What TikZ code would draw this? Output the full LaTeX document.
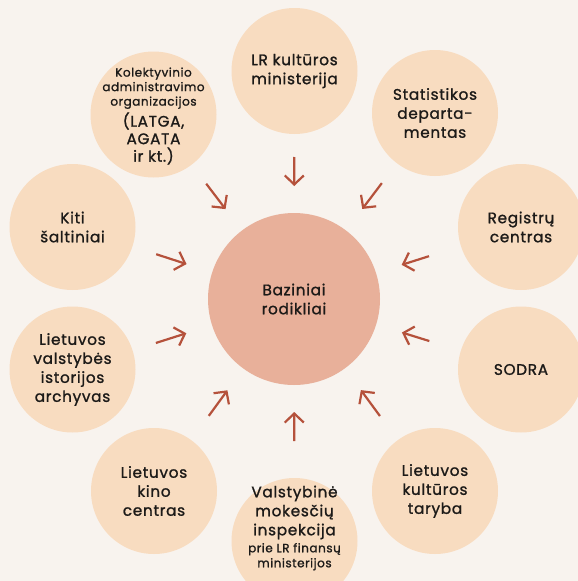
\documentclass[tikz,border=0pt]{standalone}
\usepackage{fontspec}
\setmainfont{Poppins}[LetterSpace=4.5, FakeBold=1.2]
\usetikzlibrary{arrows.meta}
\definecolor{bgcol}{HTML}{F8F3EE}
\definecolor{srccol}{HTML}{F8DCC0}
\definecolor{hubcol}{HTML}{E8B09A}
\definecolor{arrcol}{HTML}{B5513B}
\definecolor{txtcol}{HTML}{1C1A18}
\newcommand{\bigtxt}{\fontsize{15.3}{19}\selectfont}
\newcommand{\smalltxt}{\fontsize{12}{14.5}\selectfont}
\tikzset{
	src/.style={circle, fill=srccol, minimum size=126pt, inner sep=0pt, outer sep=0pt, align=center, text=txtcol, font=\bigtxt},
	hub/.style={circle, fill=hubcol, minimum size=172pt, inner sep=0pt, outer sep=0pt, align=center, text=txtcol, font=\bigtxt},
	lbl/.style={align=center, text=txtcol, inner sep=0pt, font=\bigtxt},
	arr/.style={draw=arrcol, line width=2.2pt, -{Straight Barb[length=9pt,width=19pt]}, shorten >=27pt}
}

\begin{document}
\begin{tikzpicture}[x=1pt, y=-1pt]
		%%%%% START %%%%%
		
		\useasboundingbox (0, 0) rectangle (578, 581);
		\fill[bgcol] (0, 0) rectangle (578, 581);
		
		\node[hub] (rod) at (294, 299) {Baziniai\\rodikliai};
		
		\node[src] (lrkm) at (294.5, 71) {LR kultūros\\ministerija};
		\node[src] (stat) at (435, 113) {Statistikos\\departa-\\mentas};
		\node[src] (reg) at (521, 227) {Registrų\\centras};
		\node[src] (sodra) at (521, 369.5) {SODRA};
		\node[src] (ltk) at (435, 491) {Lietuvos\\kultūros\\taryba};
		\node[src] (vmi) at (294.5, 541) {};
		\node[lbl] (vmitxt) at (294.5, 528)
			{Valstybinė\\mokesčių\\inspekcija\\[-2pt]\smalltxt prie LR finansų\\[-4pt]\smalltxt ministerijos};
		\node[src] (kino) at (154, 491) {Lietuvos\\kino\\centras};
		\node[src] (arch) at (72.5, 369.5) {Lietuvos\\valstybės\\istorijos\\archyvas};
		\node[src] (kiti) at (72.5, 227) {Kiti\\šaltiniai};
		\node[src] (kolekt) at (153.5, 114.5) {};
		\node[lbl, font=\smalltxt] (kolekttxt) at (153.5, 116)
			{Kolektyvinio\\administravimo\\organizacijos\\[2.5pt]\bigtxt (LATGA,\\[3pt]\bigtxt AGATA\\[3pt]\bigtxt ir kt.)};
		
		\foreach \from/\gap in {lrkm/23, stat/25, reg/33.5, sodra/33, ltk/30, vmi/37, kino/30, arch/24.5, kiti/25, kolekt/24}
			\draw[arr, shorten <=\gap pt] (\from) -- (rod);
		
		%%%%% END %%%%%
	\end{tikzpicture}
\end{document}
